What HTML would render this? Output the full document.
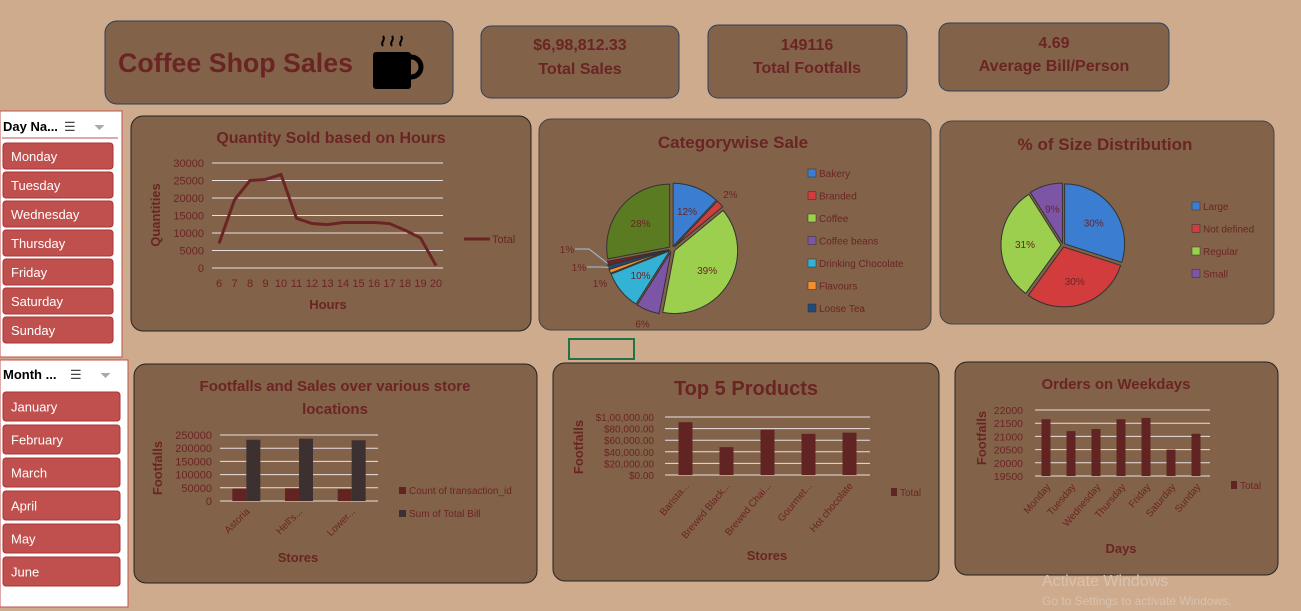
<!DOCTYPE html>
<html><head><meta charset="utf-8"><style>
body{margin:0;width:1301px;height:611px;overflow:hidden;background:#cfab8d;font-family:"Liberation Sans",sans-serif}
svg{display:block}
text{font-family:"Liberation Sans",sans-serif}
</style></head><body>
<svg id="s" width="1301" height="611" xmlns="http://www.w3.org/2000/svg">
<rect width="1301" height="611" fill="#cfab8d"/>
<g>
<rect x="105" y="21" width="348" height="83" rx="12" fill="#826349" stroke="#2c3e5c"/>
<text x="118" y="72" font-size="27" font-weight="bold" fill="#6b2424" textLength="235" lengthAdjust="spacingAndGlyphs">Coffee Shop Sales</text>
<g><rect x="373" y="52" width="38" height="37" rx="3" fill="#000"/><path d="M411 57 a9 9 0 0 1 0 20" stroke="#000" stroke-width="5" fill="none"/><path d="M383 46c-3-4 3-6 0-10M392 46c-3-4 3-6 0-10M401 46c-3-4 3-6 0-10" stroke="#000" stroke-width="2" fill="none"/></g>
</g>
<g><rect x="481" y="26" width="198" height="72" rx="10" fill="#826349" stroke="#2c3e5c"/><text x="580" y="50" font-size="16" font-weight="bold" fill="#6b2424" text-anchor="middle">$6,98,812.33</text><text x="580" y="74" font-size="16" font-weight="bold" fill="#6b2424" text-anchor="middle">Total Sales</text></g>
<g><rect x="708" y="25" width="199" height="73" rx="10" fill="#826349" stroke="#2c3e5c"/><text x="807" y="50" font-size="16" font-weight="bold" fill="#6b2424" text-anchor="middle">149116</text><text x="807" y="73" font-size="16" font-weight="bold" fill="#6b2424" text-anchor="middle">Total Footfalls</text></g>
<g><rect x="939" y="23" width="230" height="68" rx="10" fill="#826349" stroke="#2c3e5c"/><text x="1054" y="48" font-size="16" font-weight="bold" fill="#6b2424" text-anchor="middle">4.69</text><text x="1054" y="71" font-size="16" font-weight="bold" fill="#6b2424" text-anchor="middle">Average Bill/Person</text></g>
<rect x="131" y="116" width="400" height="215" rx="12" fill="#826349" stroke="#222"/>
<rect x="539" y="119" width="392" height="211" rx="12" fill="#826349" stroke="#444"/>
<rect x="940" y="121" width="334" height="203" rx="12" fill="#826349" stroke="#444"/>
<rect x="134" y="364" width="403" height="219" rx="12" fill="#826349" stroke="#222"/>
<rect x="553" y="363" width="386" height="218" rx="12" fill="#826349" stroke="#222"/>
<rect x="955" y="362" width="323" height="213" rx="12" fill="#826349" stroke="#222"/>
<rect x="569" y="339" width="65" height="20" fill="none" stroke="#217346" stroke-width="2"/>
<g id="charts"></g>
<text x="1042" y="586" font-size="16" fill="#d8c2ae">Activate Windows</text>
<text x="1042" y="605" font-size="12" fill="#d8c2ae">Go to Settings to activate Windows.</text>
<g><rect x="0" y="111" width="122" height="246" fill="#fff" stroke="#c0504d"/><text x="3" y="131" font-size="13" font-weight="bold" fill="#000">Day Na...</text><text x="64" y="131" font-size="13" fill="#444">☰</text><text x="94" y="132" font-size="14" fill="#aaa">⏷</text><line x1="2" y1="138" x2="118" y2="138" stroke="#c0504d"/></g>
<g id="days"></g>
<g><rect x="0" y="360" width="128" height="247" fill="#fff" stroke="#c0504d"/><text x="3" y="379" font-size="13" font-weight="bold" fill="#000">Month ...</text><text x="70" y="379" font-size="13" fill="#444">☰</text><text x="100" y="380" font-size="14" fill="#aaa">⏷</text></g>
<g id="months"></g>
</svg>
<script>
const hours=[6,7,8,9,10,11,12,13,14,15,16,17,18,19,20];
const qty=[7000,19500,25000,25300,26700,14200,12700,12400,13000,13000,13000,12700,10800,8600,700];
const qtyTicks=[0,5000,10000,15000,20000,25000,30000];
const catNames=["Bakery","Branded","Coffee","Coffee beans","Drinking Chocolate","Flavours","Loose Tea","Packaged Chocolate","Tea"];
const catPct=[12,2,39,6,10,1,1,1,28];
const sizeNames=["Large","Not defined","Regular","Small"];
const sizePct=[30,30,31,9];
const stores=["Astoria","Hell's...","Lower..."];
const storeCount=[47000,48000,45000];
const storeBill=[232000,236000,230000];
const storeTicks=[0,50000,100000,150000,200000,250000];
const products=["Barista...","Brewed Black...","Brewed Chai...","Gourmet...","Hot chocolate"];
const productSales=[91000,48000,78000,71000,73000];
const productTicks=[0,20000,40000,60000,80000,100000];
const weekdays=["Monday","Tuesday","Wednesday","Thursday","Friday","Saturday","Sunday"];
const weekdayOrders=[21650,21200,21280,21650,21700,20500,21100];
const weekdayTicks=[19500,20000,20500,21000,21500,22000];
const dayButtons=["Monday","Tuesday","Wednesday","Thursday","Friday","Saturday","Sunday"];
const monthButtons=["January","February","March","April","May","June"];

const NS="http://www.w3.org/2000/svg";
const C="#6b2424";
function el(tag,attrs,parent,txt){const e=document.createElementNS(NS,tag);for(const k in attrs)e.setAttribute(k,attrs[k]);if(txt!==undefined)e.textContent=txt;(parent||document.getElementById('charts')).appendChild(e);return e;}
function fmtMoney(v){const s=v.toFixed(2);let [i,d]=s.split('.');if(i.length>3){let last=i.slice(-3),rest=i.slice(0,-3);rest=rest.replace(/\B(?=(\d{2})+(?!\d))/g,',');i=rest+','+last;}return '$'+i+'.'+d;}
function grid(ticks,y,x0,x1,fmt,fs,gap){ticks.forEach(t=>{const l=el('line',{x1:x0,x2:x1,y1:y(t),y2:y(t),stroke:'#e8e0e0','stroke-width':1});
const tx=el('text',{x:x0-(gap||8),y:y(t)+4,'font-size':fs||11,fill:C,'text-anchor':'end'},null,fmt?fmt(t):t);});}
function title(x,y,s,fs){const t=el('text',{x:x,y:y,'font-size':fs,'font-weight':'bold',fill:C,'text-anchor':'middle'},null,s);}
function axTitle(x,y,s,rot){const t=el('text',{x:x,y:y,'font-size':13,'font-weight':'bold',fill:C,'text-anchor':'middle',transform:rot?`rotate(-90 ${x} ${y})`:''},null,s);}

{const x=i=>219+i*(436-219)/(hours.length-1);const y=v=>268-v/30000*105;
title(331,143,"Quantity Sold based on Hours",16);
grid(qtyTicks,y,212,443);
hours.forEach((h,i)=>{const t=el('text',{x:x(i),y:287,'font-size':11,fill:C,'text-anchor':'middle'},null,h);});
const p=el('polyline',{points:qty.map((v,i)=>x(i)+','+y(v)).join(' '),fill:'none',stroke:'#6b2424','stroke-width':3});

axTitle(160,215,"Quantities",true);axTitle(328,309,"Hours");
el('line',{x1:464,x2:490,y1:239,y2:239,stroke:'#6b2424','stroke-width':3});
const lt=el('text',{x:492,y:243,'font-size':11,fill:C},null,"Total");}

const smallLabelPos=[[567,253],[579,271],[600,287]];
function pie(cx,cy,r,vals,cols,names,explode,lx,ly,lstep,maxLeg,labelR,useSmall){let a=-Math.PI/2;const tot=vals.reduce((s,v)=>s+v,0);let k=0;
vals.forEach((v,i)=>{const da=v/tot*2*Math.PI,m=a+da/2,ox=Math.cos(m)*explode,oy=Math.sin(m)*explode;
const x1=cx+ox+r*Math.cos(a),y1=cy+oy+r*Math.sin(a),x2=cx+ox+r*Math.cos(a+da),y2=cy+oy+r*Math.sin(a+da);
const s=el('path',{d:`M${cx+ox},${cy+oy}L${x1},${y1}A${r},${r} 0 ${da>Math.PI?1:0} 1 ${x2},${y2}Z`,fill:cols[i],stroke:'#333','stroke-width':1});

const inside=v>=9;let tx,ty;
if(!inside&&useSmall&&v<=1&&k<smallLabelPos.length){const p=smallLabelPos[2-k];k++;tx=p[0];ty=p[1];
if(p[1]<280){el('polyline',{points:`${tx+8},${ty-4} ${tx+22},${ty-4} ${cx+ox+r*Math.cos(m)},${cy+oy+r*Math.sin(m)}`,fill:'none',stroke:'#9ec3e6','stroke-width':1});}}
else{const lr=inside?r*0.6:r+labelR;tx=cx+ox+lr*Math.cos(m);ty=cy+oy+lr*Math.sin(m)+4;}
const t=el('text',{x:tx,y:ty,'font-size':10,fill:C,'text-anchor':'middle'},null,v+'%');
a+=da;});
names.slice(0,maxLeg).forEach((n,i)=>{el('rect',{x:lx,y:ly+i*lstep-7,width:8,height:8,fill:cols[i],stroke:'#333','stroke-width':0.5});
const t=el('text',{x:lx+11,y:ly+i*lstep+1,'font-size':10,fill:C},null,n);});}
title(733,148,"Categorywise Sale",17);
pie(672,249,63,catPct,["#3b7dd0","#d23c3c","#9ccf4e","#7d55a6","#33b2d6","#f3902b","#1f4b7a","#7a1e1e","#5b7b22"],catNames,3,808,176,22.5,7,14,true);
title(1105,150,"% of Size Distribution",17);
pie(1063,245,60,sizePct,["#3b7dd0","#d23c3c","#9ccf4e","#7d55a6"],sizeNames,2,1192,209,22.5,4,12,false);

{const x0=220,x1=378,n=stores.length,band=(x1-x0)/n;const y=v=>501-v/250000*66;
title(335,391,"Footfalls and Sales over various store",15);title(335,414,"locations",15);
grid(storeTicks,y,220,378);
stores.forEach((s,i)=>{const c=x0+band*(i+0.5);
const b1=el('rect',{x:c-14,y:y(storeCount[i]),width:14,height:501-y(storeCount[i]),fill:'#612423'});
const b2=el('rect',{x:c,y:y(storeBill[i]),width:14,height:501-y(storeBill[i]),fill:'#3d3030'});
const t=el('text',{x:c+4,y:512,'font-size':10,fill:C,'text-anchor':'end',transform:`rotate(-45 ${c+4} 512)`},null,s);});
axTitle(162,468,"Footfalls",true);axTitle(298,562,"Stores");
el('rect',{x:399,y:487,width:7,height:7,fill:'#612423'});el('text',{x:409,y:494,'font-size':10,fill:C},null,"Count of transaction_id");
el('rect',{x:399,y:510,width:7,height:7,fill:'#3d3030'});el('text',{x:409,y:517,'font-size':10,fill:C},null,"Sum of Total Bill");}

{const x0=665,x1=870,n=products.length,band=(x1-x0)/n;const y=v=>475-v/100000*58;
title(746,395,"Top 5 Products",20);
grid(productTicks,y,x0,x1,fmtMoney,10,11);
products.forEach((p,i)=>{const c=x0+band*(i+0.5);const b=el('rect',{x:c-7,y:y(productSales[i]),width:14,height:475-y(productSales[i]),fill:'#612423'});
const t=el('text',{x:c+4,y:486,'font-size':10,fill:C,'text-anchor':'end',transform:`rotate(-50 ${c+4} 486)`},null,p);});
axTitle(583,447,"Footfalls",true);axTitle(767,560,"Stores");
el('rect',{x:891,y:488,width:6,height:8,fill:'#612423'});el('text',{x:900,y:496,'font-size':10,fill:C},null,"Total");}

{const x0=1033.5,x1=1208.5,n=weekdays.length,band=(x1-x0)/n;const y=v=>476-(v-19500)/2500*66;
title(1116,389,"Orders on Weekdays",15);
grid(weekdayTicks,y,1035,1210,null,10.5,12);
weekdays.forEach((d,i)=>{const c=x0+band*(i+0.5);const b=el('rect',{x:c-4.5,y:y(weekdayOrders[i]),width:9,height:476-y(weekdayOrders[i]),fill:'#612423'});
const t=el('text',{x:c+5,y:487,'font-size':10,fill:C,'text-anchor':'end',transform:`rotate(-50 ${c+5} 487)`},null,d);});
axTitle(986,438,"Footfalls",true);axTitle(1121,553,"Days");
el('rect',{x:1231,y:481,width:6,height:8,fill:'#612423'});el('text',{x:1240,y:489,'font-size':10,fill:C},null,"Total");}

function buttons(list,gid,y0,step,h,w){const g=document.getElementById(gid);list.forEach((n,i)=>{const r=el('rect',{x:3,y:y0+i*step,width:w,height:h,rx:3,fill:'#c0504d',stroke:'#a33'},g);

el('text',{x:11,y:y0+i*step+h/2+5,'font-size':13,fill:'#fff'},g,n);});}
buttons(dayButtons,'days',143,29,26,110);
buttons(monthButtons,'months',392,33,29,117);
</script>
</body></html>
